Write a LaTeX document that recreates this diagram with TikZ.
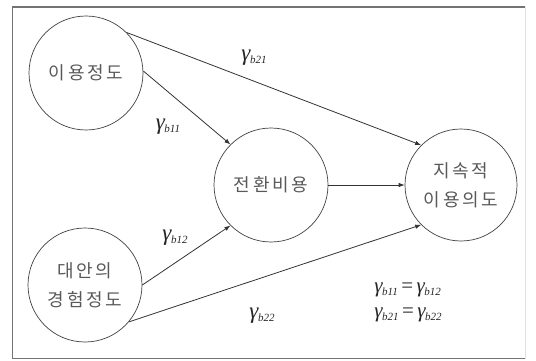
\documentclass[tikz,border=0pt]{standalone}
\usepackage{fontspec}
\setmainfont{Liberation Serif}
\newfontfamily\kr[LetterSpace=15]{Noto Sans CJK KR}
\usetikzlibrary{arrows.meta}
\newcommand{\gam}[1]{{\itshape γ}\kern-0.5pt\raisebox{-3pt}{\fontsize{11}{11}\selectfont\itshape #1}}
\begin{document}
\begin{tikzpicture}[x=1pt,y=-1pt,
  var/.style={circle,draw=black!75,line width=0.7pt,minimum size=114pt,inner sep=0pt,
    font=\kr\fontsize{18}{29}\selectfont,text=black!65,align=center},
  path/.style={draw=black!80,line width=0.8pt,-{Latex[length=6pt,width=4.5pt]}},
  coef/.style={font=\fontsize{23}{24}\selectfont,text=black!85}]
\useasboundingbox (0,0) rectangle (536,361);
\draw[black!55,line width=1.2pt] (525,7) -- (12.5,7) -- (12.5,358.5) -- (525,358.5);
\draw[black!12,line width=0.8pt] (525,7) -- (525,358.5);
\node[var] (a) at (86,73) {이용정도};
\node[var] (b) at (85,285) {대안의\\경험정도};
\node[var] (c) at (271,185) {전환비용};
\node[var,minimum size=112pt] (d) at (461,185) {지속적\\이용의도};
\draw[path] (a.2) -- (c.135);
\draw[path] (a.45) -- (d.135);
\draw[path] (b.0) -- (c.-135);
\draw[path] (b.-40) -- (d.-135);
\draw[path] (c) -- (d);
\node[coef] (l1) at (254,58) {\gam{b21}};
\node[coef] (l2) at (168,127) {\gam{b11}};
\node[coef] (l3) at (175,238) {\gam{b12}};
\node[coef] (l4) at (262,316) {\gam{b22}};
\node[font=\fontsize{21}{25}\selectfont,text=black!85,align=left] (eq) at (408,302)
  {\gam{b11}\,=\,\gam{b12}\\\gam{b21}\,=\,\gam{b22}};
\end{tikzpicture}
\end{document}
